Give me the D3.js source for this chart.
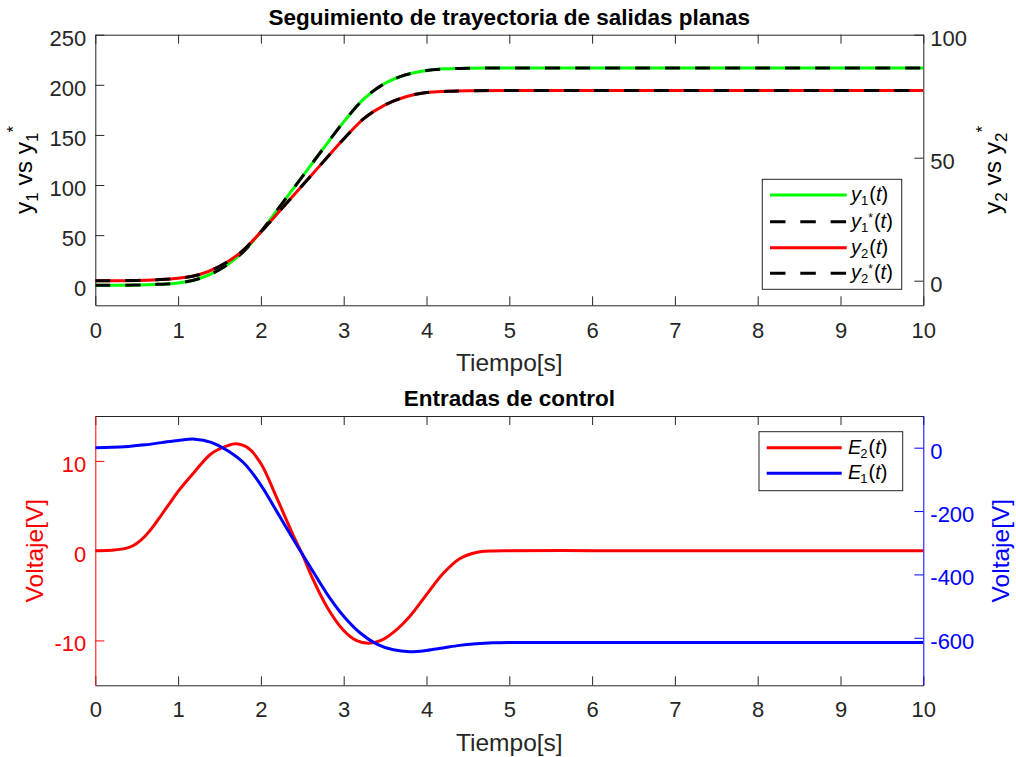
<!DOCTYPE html>
<html><head><meta charset="utf-8">
<script src="https://cdn.jsdelivr.net/npm/d3@7"></script>
<style>
body{margin:0;background:#fff}
svg{display:block}
text{font-family:"Liberation Sans",Arial,Helvetica,sans-serif}
</style>
</head><body>
<svg id="c" width="1016" height="757"></svg>
<script>
// ---------------- DATA ----------------
const tTraj = [0, 0.5, 0.75, 1, 1.25, 1.5, 1.75, 2, 2.25, 2.5, 2.75, 3, 3.25, 3.5, 3.75, 4, 4.25, 4.5, 5, 6, 7, 8, 9, 10];
const y1    = [0, 0.2, 0.9, 2.3, 6.5, 15.5, 30.5, 53.5, 81, 108.4, 136, 163, 186.5, 201.5, 210, 214.3, 216, 216.6, 216.7, 216.7, 216.7, 216.7, 216.7, 216.7];
const y1ref = [0, 0.2, 0.9, 2.3, 6.5, 15.5, 30.5, 53.5, 81, 108.4, 136, 163, 186.5, 201.5, 210, 214.3, 216, 216.6, 216.7, 216.7, 216.7, 216.7, 216.7, 216.7];
const y2    = [0, 0.1, 0.4, 1.0, 2.4, 5.8, 11.3, 19.8, 29.2, 38.7, 48.2, 57.6, 66.1, 71.5, 74.8, 76.5, 77.0, 77.2, 77.3, 77.3, 77.3, 77.3, 77.3, 77.3];
const y2ref = [0, 0.1, 0.4, 1.0, 2.4, 5.8, 11.3, 19.8, 29.2, 38.7, 48.2, 57.6, 66.1, 71.5, 74.8, 76.5, 77.0, 77.2, 77.3, 77.3, 77.3, 77.3, 77.3, 77.3];

const tE2 = [0, 0.2, 0.4, 0.5, 0.6, 0.7, 0.8, 0.9, 1.0, 1.2, 1.4, 1.6, 1.7, 1.85, 2.0, 2.2, 2.4, 2.5, 2.6, 2.8, 3.0, 3.15, 3.3, 3.45, 3.6, 3.8, 4.0, 4.2, 4.4, 4.6, 4.8, 5.0, 6, 7, 8, 9, 10];
const E2  = [0, 0.04, 0.33, 0.8, 1.6, 2.7, 4.0, 5.3, 6.6, 8.8, 10.8, 11.7, 11.9, 11.4, 9.7, 5.7, 1.5, -0.4, -2.6, -6.3, -8.9, -10.0, -10.32, -10.0, -9.1, -7.3, -4.9, -2.55, -0.9, -0.2, -0.03, 0, 0, 0, 0, 0, 0];

const tE1 = [0, 0.2, 0.4, 0.6, 0.8, 1.0, 1.2, 1.4, 1.6, 1.8, 2.0, 2.2, 2.4, 2.6, 2.8, 3.0, 3.2, 3.4, 3.6, 3.8, 4.0, 4.2, 4.4, 4.6, 4.8, 5.0, 6, 7, 8, 9, 10];
const E1  = [0, 1, 4, 9, 16, 23, 27, 17, -10, -50, -118, -205, -293, -378, -462, -532, -585, -620, -638, -644, -640, -632, -624, -619, -616, -615, -615, -615, -615, -615, -615];

const xTicks = [0, 1, 2, 3, 4, 5, 6, 7, 8, 9, 10];
const topLeftTicks = [0, 50, 100, 150, 200, 250];
const topRightTicks = [0, 50, 100];
const botLeftTicks = [-10, 0, 10];
const botRightTicks = [-600, -400, -200, 0];

const title1 = "Seguimiento de trayectoria de salidas planas";
const title2 = "Entradas de control";
const xLabel = "Tiempo[s]";
const voltLabel = "Voltaje[V]";

// ---------------- LAYOUT ----------------
const svg = d3.select("#c");
const X0 = 95.3, X1 = 923.3;
const AX = "#262626";
const x = d3.scaleLinear().domain([0, 10]).range([X0, X1]);

const pTop = {y0: 34.7, y1: 305.3};
const pBot = {y0: 416, y1: 685.3};

const yTL = d3.scaleLinear().domain([-20, 250]).range([pTop.y1, pTop.y0]);
const yTR = d3.scaleLinear().domain([-10, 100]).range([pTop.y1, pTop.y0]);
const yBL = d3.scaleLinear().domain([-15, 15]).range([pBot.y1, pBot.y0]);
const yBR = d3.scaleLinear().domain([-750, 100]).range([pBot.y1, pBot.y0]);

const defs = svg.append("defs");
function clip(id, p) {
  defs.append("clipPath").attr("id", id).append("rect")
    .attr("x", X0).attr("y", p.y0).attr("width", X1 - X0).attr("height", p.y1 - p.y0);
}
clip("cTop", pTop); clip("cBot", pBot);

const TL = 9; // tick length (inward)
const fmt = d => String(d);

function drawAxes(p, yL, yR, lTicks, rTicks, lColor, rColor, xlabY, xtickY) {
  const g = svg.append("g");
  g.append("rect").attr("x", X0).attr("y", p.y0).attr("width", X1 - X0).attr("height", p.y1 - p.y0)
    .attr("fill", "#fff");
  const xb = g.append("g").attr("transform", `translate(0,${p.y1})`)
    .call(d3.axisBottom(x).tickValues(xTicks).tickSizeInner(-TL).tickSizeOuter(0).tickPadding(0).tickFormat(fmt));
  xb.select(".domain").attr("stroke", AX);
  xb.selectAll(".tick line").attr("stroke", AX);
  xb.selectAll(".tick text").attr("y", xtickY - p.y1).attr("dy", null)
    .attr("font-size", 22).attr("fill", AX);
  const xt = g.append("g").attr("transform", `translate(0,${p.y0})`)
    .call(d3.axisTop(x).tickValues(xTicks).tickSizeInner(-TL).tickSizeOuter(0).tickFormat(""));
  xt.select(".domain").attr("stroke", AX);
  xt.selectAll(".tick line").attr("stroke", AX);
  const yl = g.append("g").attr("transform", `translate(${X0},0)`)
    .call(d3.axisLeft(yL).tickValues(lTicks).tickSizeInner(-TL).tickSizeOuter(0).tickPadding(0).tickFormat(fmt));
  yl.select(".domain").attr("stroke", lColor);
  yl.selectAll(".tick line").attr("stroke", lColor);
  yl.selectAll(".tick text").attr("x", -9).attr("dy", null).attr("y", 10.5)
    .attr("font-size", 22).attr("fill", lColor);
  const yr = g.append("g").attr("transform", `translate(${X1},0)`)
    .call(d3.axisRight(yR).tickValues(rTicks).tickSizeInner(-TL).tickSizeOuter(0).tickPadding(0).tickFormat(fmt));
  yr.select(".domain").attr("stroke", rColor);
  yr.selectAll(".tick line").attr("stroke", rColor);
  yr.selectAll(".tick text").attr("x", 7).attr("dy", null).attr("y", 10.5)
    .attr("font-size", 22).attr("fill", rColor);
  g.selectAll("g").attr("font-family", null);
  g.append("text").attr("x", (X0 + X1) / 2).attr("y", xlabY).attr("text-anchor", "middle")
    .attr("font-size", 24.5).attr("fill", AX).text(xLabel);
  return g;
}

const curve = d3.curveCatmullRom.alpha(0.5);
function line(ts, vs, xs, ys) {
  return d3.line().curve(curve).x((d, i) => xs(ts[i])).y(d => ys(d))(vs);
}

// ---------------- TOP PLOT ----------------
drawAxes(pTop, yTL, yTR, topLeftTicks, topRightTicks, AX, AX, 371, 338);

svg.append("text").attr("x", (X0 + X1) / 2).attr("y", 25).attr("text-anchor", "middle")
  .attr("font-size", 22.5).attr("font-weight", "bold").attr("fill", "#000").text(title1);

function yLabelTop(xb, sub) {
  const t = svg.append("text").attr("transform", `translate(${xb},170) rotate(-90)`)
    .attr("text-anchor", "middle").attr("font-size", 24.5).attr("fill", "#000");
  t.append("tspan").text("y");
  t.append("tspan").attr("font-size", 17).attr("dy", 6).text(sub);
  t.append("tspan").attr("dy", -6).text(" vs y");
  t.append("tspan").attr("font-size", 17).attr("dy", 6).text(sub);
  t.append("tspan").attr("font-size", 17).attr("dy", -19).text("*");
}
yLabelTop(32, "1");
yLabelTop(1001, "2");

const gTop = svg.append("g").attr("clip-path", "url(#cTop)");
gTop.append("path").attr("d", line(tTraj, y1, x, yTL)).attr("fill", "none").attr("stroke", "#00ff00").attr("stroke-width", 3);
gTop.append("path").attr("d", line(tTraj, y1ref, x, yTL)).attr("fill", "none").attr("stroke", "#000").attr("stroke-width", 3).attr("stroke-dasharray", "15,15");
gTop.append("path").attr("d", line(tTraj, y2, x, yTR)).attr("fill", "none").attr("stroke", "#ff0000").attr("stroke-width", 3);
gTop.append("path").attr("d", line(tTraj, y2ref, x, yTR)).attr("fill", "none").attr("stroke", "#000").attr("stroke-width", 3).attr("stroke-dasharray", "15,15");

const SERIF = "'Liberation Serif','Times New Roman',serif";
function mathLabel(g, xPos, yPos, base, sub, star) {
  const t = g.append("text").attr("x", xPos).attr("y", yPos).attr("font-family", SERIF)
    .attr("font-size", 20).attr("fill", "#000");
  t.append("tspan").attr("font-style", "italic").text(base);
  t.append("tspan").attr("font-size", 13).attr("dy", 4).attr("dx", base === "E" ? -1 : 0).text(sub);
  if (star) {
    t.append("tspan").attr("font-size", 12).attr("dy", -10).text("*");
    t.append("tspan").attr("dy", 6).attr("dx", 1).text("(");
  } else {
    t.append("tspan").attr("dy", -4).attr("dx", 1).text("(");
  }
  t.append("tspan").attr("font-style", "italic").text("t");
  t.append("tspan").text(")");
}

const legT = svg.append("g");
legT.append("rect").attr("x", 762.3).attr("y", 179.3).attr("width", 139.4).attr("height", 110)
  .attr("fill", "#fff").attr("stroke", AX).attr("stroke-width", 1);
const legTopItems = [
  {c: "#00ff00", dash: null, sub: "1", star: false, y: 195},
  {c: "#000", dash: "15.5,14.8", sub: "1", star: true, y: 221.7},
  {c: "#ff0000", dash: null, sub: "2", star: false, y: 247.7},
  {c: "#000", dash: "15.5,14.8", sub: "2", star: true, y: 273.3}
];
legTopItems.forEach(it => {
  legT.append("line").attr("x1", 770).attr("x2", 846.7).attr("y1", it.y).attr("y2", it.y)
    .attr("stroke", it.c).attr("stroke-width", 3).attr("stroke-dasharray", it.dash);
  mathLabel(legT, 851, it.y + 6, "y", it.sub, it.star);
});

// ---------------- BOTTOM PLOT ----------------
drawAxes(pBot, yBL, yBR, botLeftTicks, botRightTicks, "#ff0000", "#0000ff", 751, 717);

svg.append("text").attr("x", (X0 + X1) / 2).attr("y", 406).attr("text-anchor", "middle")
  .attr("font-size", 22.5).attr("font-weight", "bold").attr("fill", "#000").text(title2);

svg.append("text").attr("transform", `translate(43,${(pBot.y0 + pBot.y1) / 2}) rotate(-90)`)
  .attr("text-anchor", "middle").attr("font-size", 24.5).attr("fill", "#ff0000").text(voltLabel);
svg.append("text").attr("transform", `translate(1009,${(pBot.y0 + pBot.y1) / 2}) rotate(-90)`)
  .attr("text-anchor", "middle").attr("font-size", 24.5).attr("fill", "#0000ff").text(voltLabel);

const gBot = svg.append("g").attr("clip-path", "url(#cBot)");
gBot.append("path").attr("d", line(tE2, E2, x, yBL)).attr("fill", "none").attr("stroke", "#ff0000").attr("stroke-width", 3);
gBot.append("path").attr("d", line(tE1, E1, x, yBR)).attr("fill", "none").attr("stroke", "#0000ff").attr("stroke-width", 3);

const legB = svg.append("g");
legB.append("rect").attr("x", 759).attr("y", 431.7).attr("width", 143.7).attr("height", 59)
  .attr("fill", "#fff").attr("stroke", AX).attr("stroke-width", 1);
const legBotItems = [
  {c: "#ff0000", sub: "2", y: 447.7},
  {c: "#0000ff", sub: "1", y: 473.3}
];
legBotItems.forEach(it => {
  legB.append("line").attr("x1", 766.7).attr("x2", 841.7).attr("y1", it.y).attr("y2", it.y)
    .attr("stroke", it.c).attr("stroke-width", 3);
  mathLabel(legB, 848, it.y + 6, "E", it.sub, false);
});
</script>
</body></html>
